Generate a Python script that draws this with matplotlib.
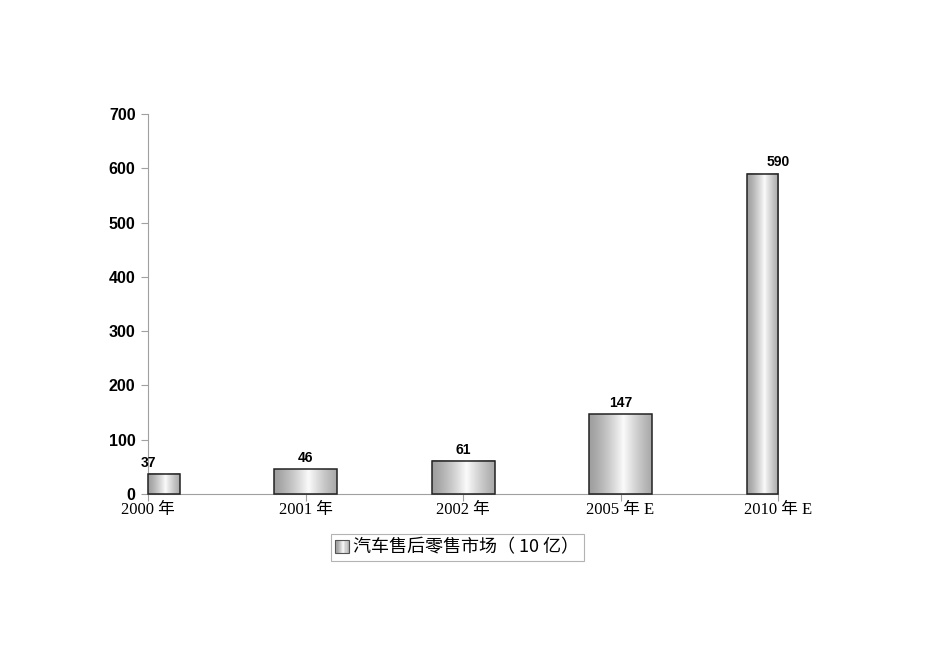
import matplotlib
matplotlib.use("Agg")
import matplotlib.pyplot as plt
import numpy as np
from matplotlib.patches import Rectangle
from matplotlib.legend_handler import HandlerBase

categories = ["2000 年", "2001 年", "2002 年", "2005 年 E", "2010 年 E"]
values = [37, 46, 61, 147, 590]
yticks = [0, 100, 200, 300, 400, 500, 600, 700]
series_name = "汽车售后零售市场（ 10 亿）"

fig = plt.figure(figsize=(9.5, 6.72), dpi=100)
ax = fig.add_axes([148/950, 1-494/672, (778-148)/950, (494-114)/672])

x = np.arange(len(categories))
width = 0.4
xmin, xmax = 0, len(categories) - 1

# horizontal gradient profile across a bar (dark edges, light centre)
n = 400
grad = np.linspace(0, 1, n)
prof = 0.62 + 0.36 * (1 - np.abs(grad - 0.55) / 0.55) ** 1.3
prof = np.clip(prof, 0, 0.98)
img = np.tile(prof, (2, 1))

for xi, v in zip(x, values):
    x0, x1 = xi - width / 2, xi + width / 2
    vx0, vx1 = max(x0, xmin), min(x1, xmax)
    ax.imshow(img, cmap="gray", vmin=0, vmax=1, extent=[vx0, vx1, 0, v],
              aspect="auto", zorder=2, interpolation="bilinear")
    ax.add_patch(Rectangle((vx0, 0), vx1 - vx0, v, facecolor="none", edgecolor="#222222",
                           linewidth=1.1, zorder=3, clip_on=False))
    ax.text(xi, v + 8, str(v), ha="center", va="bottom", fontsize=10, fontweight="bold",
            family="Liberation Sans", clip_on=False)

ax.set_xlim(xmin, xmax)
ax.set_ylim(0, 700)
ax.set_yticks(yticks)
ax.set_yticklabels([str(t) for t in yticks], fontsize=11.5, fontweight="bold", family="Liberation Sans")
ax.set_xticks(x)
ax.set_xticklabels(categories, fontsize=12, family=["Liberation Serif", "Noto Sans CJK SC"])

for s in ["top", "right"]:
    ax.spines[s].set_visible(False)
for s in ["left", "bottom"]:
    ax.spines[s].set_color("#a0a0a0")
    ax.spines[s].set_linewidth(0.8)
ax.tick_params(axis="y", length=5, color="#a0a0a0", pad=4)
ax.tick_params(axis="x", length=5, color="#a0a0a0", pad=1)


class GradHandler(HandlerBase):
    def create_artists(self, legend, orig_handle, xdescent, ydescent, width, height, fontsize, trans):
        arts = []
        k = 12
        for i in range(k):
            c = prof[int(i / k * (n - 1))]
            arts.append(Rectangle((-xdescent + i * width / k, -ydescent), width / k, height,
                                  facecolor=(c, c, c), edgecolor="none", transform=trans))
        arts.append(Rectangle((-xdescent, -ydescent), width, height, facecolor="none",
                              edgecolor="#555555", linewidth=0.8, transform=trans))
        return arts


handle = Rectangle((0, 0), 1, 1)
leg = ax.legend([handle], [series_name], loc="upper center", bbox_to_anchor=(0.491, -0.105),
                frameon=True, fancybox=False, edgecolor="#a0a0a0", handlelength=0.75, handleheight=0.75,
                handletextpad=0.25, borderpad=0.25, borderaxespad=0,
                handler_map={Rectangle: GradHandler()},
                prop={"family": ["Noto Sans CJK SC"], "size": 13})
leg.get_frame().set_linewidth(0.8)

fig.savefig("out.png", dpi=100)
